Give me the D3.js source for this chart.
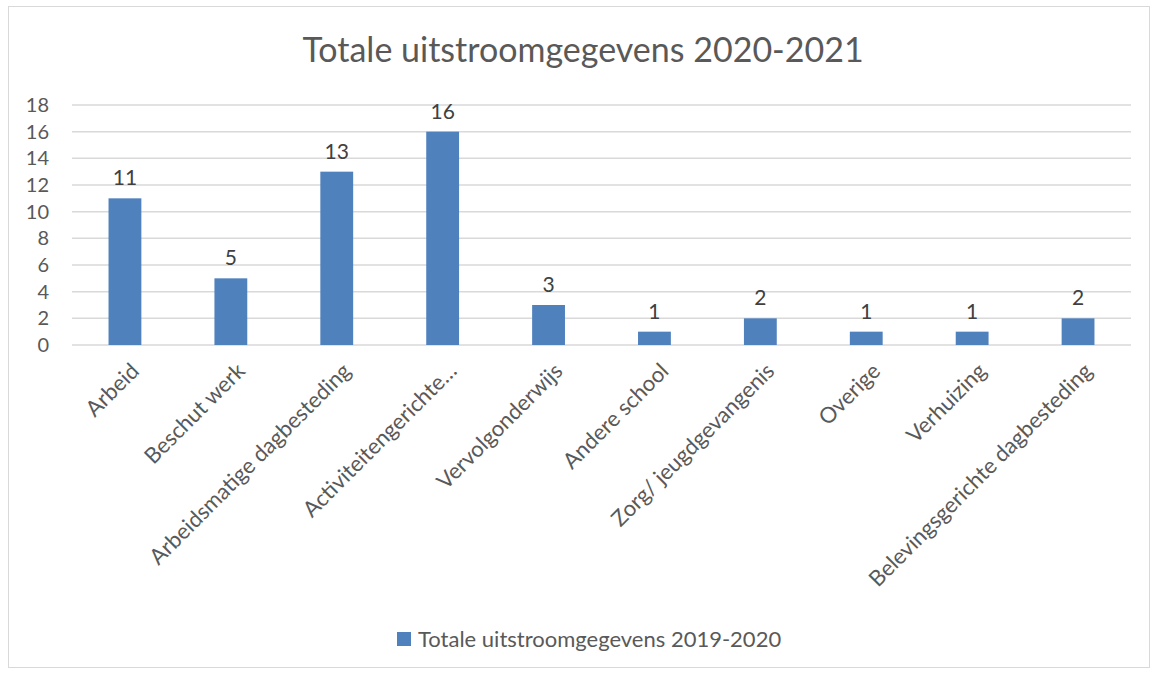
<!DOCTYPE html>
<html>
<head>
<meta charset="utf-8">
<title>Totale uitstroomgegevens 2020-2021</title>
<script src="https://d3js.org/d3.v7.min.js"></script>
<style>
  body { margin: 0; background: #fff; }
  text { font-family: Lato, "Open Sans", sans-serif; }
  .grid line { stroke: #d9d9d9; stroke-width: 1.5px; }
</style>
</head>
<body>
<div id="chart"></div>
<script>
// data
const categories = ["Arbeid", "Beschut werk", "Arbeidsmatige dagbesteding", "Activiteitengerichte…",
  "Vervolgonderwijs", "Andere school", "Zorg/ jeugdgevangenis", "Overige", "Verhuizing",
  "Belevingsgerichte dagbesteding"];
const values = [11, 5, 13, 16, 3, 1, 2, 1, 1, 2];
const yTicks = [0, 2, 4, 6, 8, 10, 12, 14, 16, 18];
const seriesName = "Totale uitstroomgegevens 2019-2020";
const title = "Totale uitstroomgegevens 2020-2021";

const width = 1158, height = 673;
const plot = { left: 72, right: 1131, top: 105, bottom: 345 };
const barColor = "#4f81bd";

const svg = d3.select("#chart").append("svg")
  .attr("width", width).attr("height", height);

// outer frame
svg.append("rect")
  .attr("x", 8.5).attr("y", 6.5)
  .attr("width", 1141).attr("height", 661)
  .attr("fill", "#fff").attr("stroke", "#d9d9d9");

svg.append("text")
  .attr("x", 583).attr("y", 62)
  .attr("text-anchor", "middle")
  .attr("font-size", 34)
  .attr("fill", "#595959")
  .text(title);

const x = d3.scaleBand()
  .domain(categories)
  .range([plot.left, plot.right])
  .paddingInner(0.69).paddingOuter(0.345);

const y = d3.scaleLinear()
  .domain([0, 18])
  .range([plot.bottom, plot.top]);

// gridlines
svg.append("g").attr("class", "grid")
  .selectAll("line").data(yTicks).enter().append("line")
  .attr("x1", plot.left).attr("x2", plot.right)
  .attr("y1", d => y(d)).attr("y2", d => y(d));

// y axis labels
const yAxis = svg.append("g")
  .attr("transform", `translate(${plot.left - 23},0)`)
  .call(d3.axisLeft(y).tickValues(yTicks).tickSize(0).tickPadding(0));
yAxis.select(".domain").remove();
yAxis.selectAll("text")
  .attr("font-family", "Lato, 'Open Sans', sans-serif")
  .attr("font-size", 20).attr("fill", "#595959");

// bars
svg.append("g").selectAll("rect")
  .data(values).enter().append("rect")
  .attr("x", (d, i) => x(categories[i]))
  .attr("y", d => y(d))
  .attr("width", x.bandwidth())
  .attr("height", d => y(0) - y(d))
  .attr("fill", barColor);

// value labels
svg.append("g").selectAll("text")
  .data(values).enter().append("text")
  .attr("x", (d, i) => x(categories[i]) + x.bandwidth() / 2)
  .attr("y", d => y(d) - 13)
  .attr("text-anchor", "middle")
  .attr("font-size", 21)
  .attr("fill", "#404040")
  .text(d => d);

// x axis labels
const xAxis = svg.append("g")
  .attr("transform", `translate(0,${plot.bottom})`)
  .call(d3.axisBottom(x).tickSize(0).tickPadding(0));
xAxis.select(".domain").remove();
xAxis.selectAll("text")
  .attr("font-family", "Lato, 'Open Sans', sans-serif")
  .attr("font-size", 22).attr("fill", "#595959")
  .attr("text-anchor", "end")
  .attr("dy", "0.35em")
  .attr("y", 0)
  .attr("transform", "translate(10,22) rotate(-45)");

// legend
const legend = svg.append("g").attr("transform", "translate(397,632)");
legend.append("rect").attr("width", 14).attr("height", 14).attr("fill", barColor);
legend.append("text")
  .attr("x", 21).attr("y", 15)
  .attr("font-size", 22).attr("fill", "#595959")
  .text(seriesName);
</script>
</body>
</html>
